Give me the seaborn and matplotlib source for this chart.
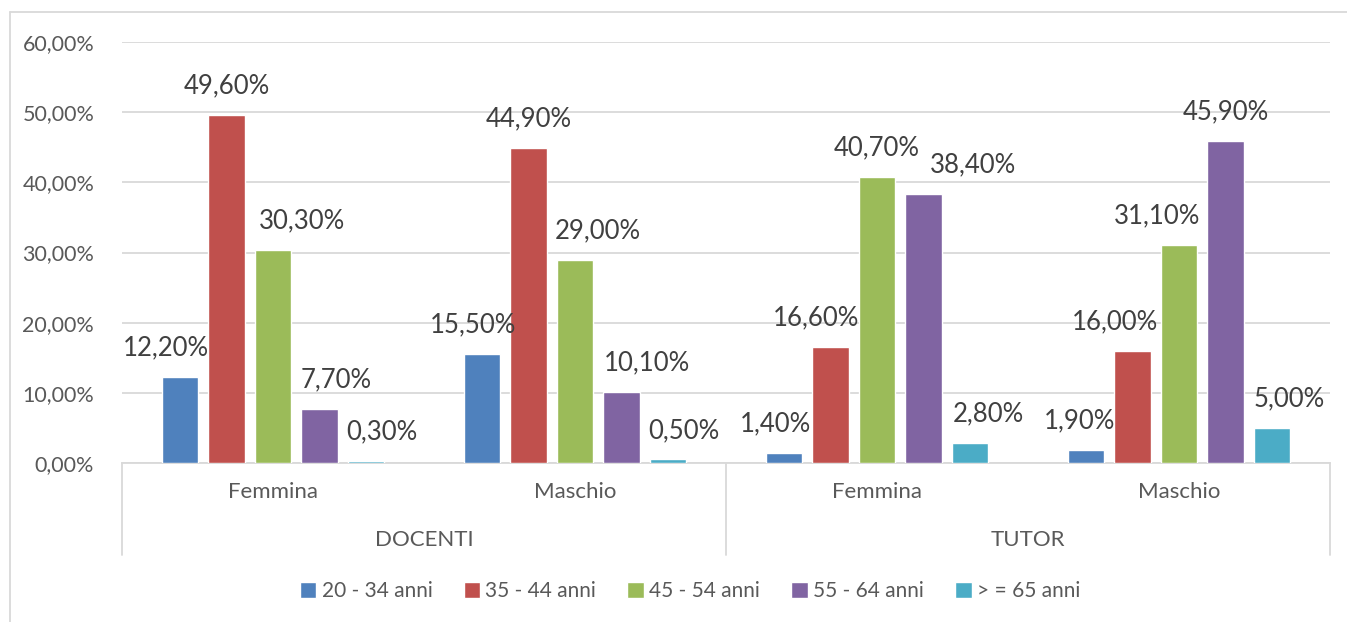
import numpy as np
import pandas as pd
import seaborn as sns
import matplotlib.pyplot as plt
from matplotlib.lines import Line2D

groups = ['DOCENTI', 'DOCENTI', 'TUTOR', 'TUTOR']
genders = ['Femmina', 'Maschio', 'Femmina', 'Maschio']
ages = ['20 - 34 anni', '35 - 44 anni', '45 - 54 anni', '55 - 64 anni', '> = 65 anni']

# percent values, one list per age band (order: DOC F, DOC M, TUT F, TUT M)
age_20_34 = [12.2, 15.5, 1.4, 1.9]
age_35_44 = [49.6, 44.9, 16.6, 16.0]
age_45_54 = [30.3, 29.0, 40.7, 31.1]
age_55_64 = [7.7, 10.1, 38.4, 45.9]
age_65 = [0.3, 0.5, 2.8, 5.0]

colors = ['#4F81BD', '#C0504D', '#9BBB59', '#8064A2', '#4BACC6']

# horizontal nudges of the data labels (pixels), as placed in the original
label_nudge = [
    [-14, -9, -8, -6],
    [0, 0, -14, -18],
    [29, 23, 0, -22],
    [17, 25, 49, 0],
    [16, 16, 18, 17],
]

series = [age_20_34, age_35_44, age_45_54, age_55_64, age_65]
cats = [g + '|' + s for g, s in zip(groups, genders)]
rows = []
for age, vals in zip(ages, series):
    for c, v in zip(cats, vals):
        rows.append({'cat': c, 'age': age, 'value': v})
df = pd.DataFrame(rows)

sns.set_style('white')
plt.rcParams['font.family'] = ['Lato', 'DejaVu Sans']

fig = plt.figure(figsize=(13.47, 6.22), dpi=100)
ax = fig.add_axes([122 / 1347, 1 - 463 / 622, (1330 - 122) / 1347, 421 / 622])

sns.barplot(data=df, x='cat', y='value', hue='age', order=cats, hue_order=ages,
            palette=colors, width=0.77, gap=0.21, saturation=1, ax=ax,
            legend=True, errorbar=None, zorder=3)

ax.set_ylim(0, 60)
ax.set_xlim(-0.5, 3.5)
ax.set_yticks(np.arange(0, 61, 10))
ax.set_yticklabels([f'{v:.2f}%'.replace('.', ',') for v in np.arange(0, 61, 10)],
                   fontsize=15.5, color='#595959')
ax.set_xticks(range(4))
ax.set_xticklabels(genders, fontsize=16, color='#595959')
ax.tick_params(axis='x', length=0, pad=14)
ax.tick_params(axis='y', length=0, pad=20)
ax.set_xlabel('')
ax.set_ylabel('')
ax.yaxis.grid(True, color='#D9D9D9', linewidth=1.3)
ax.set_axisbelow(True)
for s in ['top', 'right', 'left']:
    ax.spines[s].set_visible(False)
ax.spines['bottom'].set_color('#D9D9D9')
ax.spines['bottom'].set_linewidth(1.3)
ax.spines['bottom'].set_zorder(1)

# data labels
for i, cont in enumerate(ax.containers):
    for j, bar in enumerate(cont):
        h = bar.get_height()
        txt = f'{h:.2f}%'.replace('.', ',')
        ax.annotate(txt, (bar.get_x() + bar.get_width() / 2, h),
                    xytext=(label_nudge[i][j] * 0.72, 21), textcoords='offset points',
                    ha='center', va='center', fontsize=18.5, color='#404040')

# group separators and group labels below axis
trans = ax.get_xaxis_transform()
for x in [-0.5, 1.5, 3.5]:
    ax.add_line(Line2D([x, x], [0, -92 / 421], transform=trans, color='#D9D9D9',
                       linewidth=1.3, clip_on=False))
for x, g in [(0.5, 'DOCENTI'), (2.5, 'TUTOR')]:
    ax.text(x, -77 / 421, g, transform=trans, ha='center', va='center',
            fontsize=16, color='#595959')

# legend
handles, labels = ax.get_legend_handles_labels()
ax.legend_.remove()
fig.legend(handles, labels, loc='center', bbox_to_anchor=(690 / 1347, 1 - 591 / 622),
           ncol=5, frameon=False, fontsize=15, handlelength=0.8, handleheight=0.8,
           handletextpad=0.25, columnspacing=1.5, labelcolor='#595959')

# outer chart frame
fig.add_artist(Line2D([10 / 1347, 1.0], [1 - 12 / 622, 1 - 12 / 622],
                      transform=fig.transFigure, color='#D9D9D9', linewidth=1.3))
fig.add_artist(Line2D([10 / 1347, 10 / 1347], [0, 1 - 12 / 622],
                      transform=fig.transFigure, color='#D9D9D9', linewidth=1.3))

fig.savefig('out.png', dpi=100)
